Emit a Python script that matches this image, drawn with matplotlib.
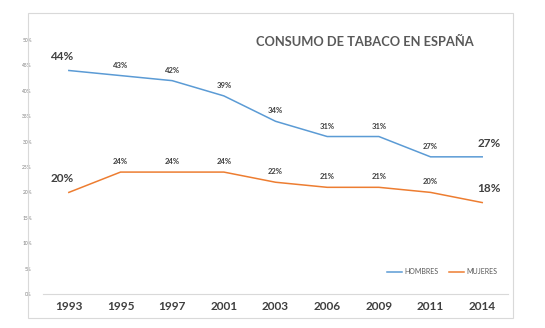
import matplotlib.pyplot as plt
from matplotlib.patches import Rectangle

# consumo de tabaco por sexo (%)
years = ['1993', '1995', '1997', '2001', '2003', '2006', '2009', '2011', '2014']
hombres = [44, 43, 42, 39, 34, 31, 31, 27, 27]
mujeres = [20, 24, 24, 24, 22, 21, 21, 20, 18]
yticks = [0, 5, 10, 15, 20, 25, 30, 35, 40, 45, 50]

plt.rcParams['font.family'] = ['Lato', 'DejaVu Sans']

blue = '#5b9bd5'
orange = '#ed7d31'

fig = plt.figure(figsize=(5.45, 3.28), dpi=100)
fig.patches.append(Rectangle((0.0514, 0.0305), 0.8896, 0.9295, transform=fig.transFigure,
                             fill=False, edgecolor='#d9d9d9', linewidth=0.8))

ax = fig.add_axes([0.0789, 0.1037, 0.8533, 0.7743])
x = range(len(years))
ax.plot(x, hombres, color=blue, linewidth=1.1, label='HOMBRES')
ax.plot(x, mujeres, color=orange, linewidth=1.1, label='MUJERES')

# etiquetas de datos: primera y ultima mas grandes
for serie in (hombres, mujeres):
    for i, v in enumerate(serie):
        big = i == 0 or i == len(serie) - 1
        dx = -5 if i == 0 else (5 if i == len(serie) - 1 else 0)
        ax.annotate(f'{v}%', (i, v), xytext=(dx, 6 if big else 5), textcoords='offset points',
                    ha='center', va='bottom', fontsize=8.5 if big else 5.5,
                    fontweight='bold', color='#404040')

ax.set_xlim(-0.5, len(years) - 0.5)
ax.set_ylim(0, 50)
ax.set_xticks(list(x))
ax.set_xticklabels(years, fontsize=8.5, fontweight='bold', color='#404040')
ax.set_yticks(yticks)
ax.set_yticklabels([f'{t}%' for t in yticks], fontsize=3.5, color='#808080')
ax.tick_params(axis='both', length=0)
ax.tick_params(axis='x', pad=5)
ax.tick_params(axis='y', pad=8)
for s in ['top', 'right', 'left']:
    ax.spines[s].set_visible(False)
ax.spines['bottom'].set_color('#d9d9d9')
ax.spines['bottom'].set_linewidth(0.8)

fig.text(0.67, 0.872, 'CONSUMO DE TABACO EN ESPAÑA', ha='center', va='center',
         fontsize=9.3, fontweight='bold', color='#595959')

ax.legend(loc='lower right', bbox_to_anchor=(0.99, 0.05), ncol=2, frameon=False,
          fontsize=5, handlelength=2.2, handletextpad=0.3, columnspacing=1.5,
          labelcolor='#595959')

fig.savefig('out.png', dpi=100)
